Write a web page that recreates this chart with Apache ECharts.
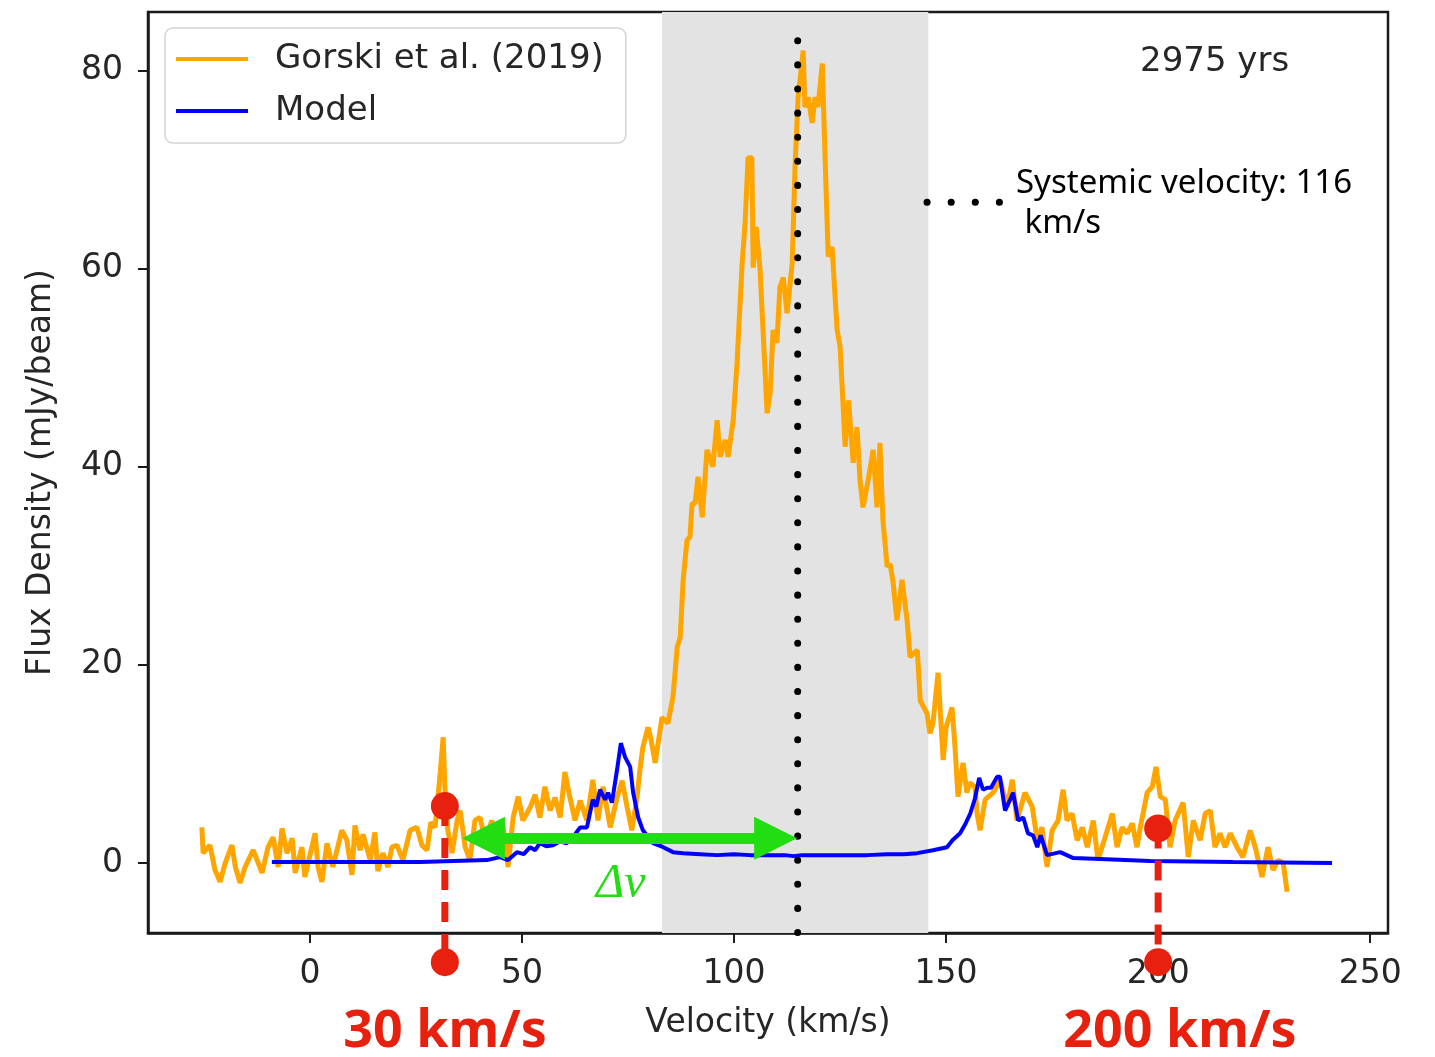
<!DOCTYPE html>
<html>

<head>
    <meta charset="utf-8" />
    <title>Line profile</title>
    <script src="https://cdn.jsdelivr.net/npm/echarts@6.0.0/dist/echarts.min.js"></script>
    <style>
        body { margin: 0; background: #fff; }
        #main { width: 1435px; height: 1057px; }
    </style>
</head>

<body>
    <div id="main"></div>
    <script type="text/javascript">
        // observed profile, [velocity km/s, flux mJy/beam]
        var gorski = [
            [-25.5, 3.6], [-25.2, 1.0], [-23.6, 1.8], [-22.4, -0.7], [-21.2, -1.9], [-20.0, 0.0], [-18.4, 1.8],
            [-17.6, -0.4], [-16.5, -2.0], [-15.3, -0.4], [-13.4, 1.3], [-11.3, -1.0], [-9.9, 1.6], [-8.7, 2.6],
            [-7.5, -0.4], [-6.6, 3.5], [-5.4, 1.0], [-4.2, 2.5], [-3.5, -1.0], [-1.9, 1.6], [-1.2, -1.4],
            [1.2, 3.0], [1.9, -0.4], [2.8, -1.9], [4.0, 2.0], [5.4, -0.4], [7.5, 3.3], [8.7, 2.3], [9.9, -1.2],
            [10.6, 3.8], [11.8, 1.3], [12.5, 2.9], [14.2, 0.3], [15.3, 3.1], [16.0, -0.8], [17.2, 1.0],
            [18.4, -0.4], [19.3, 1.6], [20.5, 1.8], [21.9, 0.3], [23.6, 3.3], [25.2, 3.6], [26.4, 1.8],
            [27.6, 1.3], [28.5, 4.1], [29.5, 3.6], [30.7, 9.1], [31.4, 12.7], [31.8, 7.7], [32.5, 3.3],
            [33.5, 1.0], [34.7, 4.3], [35.4, 5.3], [36.6, 1.6], [37.7, 0.3], [38.9, 4.3], [40.1, 4.6],
            [41.3, 2.3], [42.9, 4.3], [44.3, 1.0], [45.5, 3.9], [46.7, -0.4], [47.9, 4.6], [49.1, 6.7],
            [50.2, 4.3], [51.9, 5.6], [53.1, 6.9], [54.2, 4.6], [55.4, 7.7], [56.6, 5.3], [57.8, 6.6],
            [59.0, 4.6], [60.1, 9.2], [61.3, 6.6], [62.5, 4.3], [63.7, 6.3], [65.3, 4.3], [66.7, 8.4],
            [67.9, 4.3], [69.1, 7.7], [70.8, 3.6], [72.4, 6.6], [73.6, 8.3], [74.8, 5.6], [75.9, 3.3],
            [77.1, 6.6], [77.8, 9.4], [78.5, 11.7], [79.7, 13.7], [80.4, 12.5], [81.4, 10.1], [83.0, 14.7],
            [84.4, 14.1], [85.6, 16.8], [86.6, 21.8], [87.3, 22.8], [88.0, 28.6], [88.9, 32.6], [89.6, 32.9],
            [90.1, 36.3], [90.8, 36.3], [91.5, 39.0], [92.5, 34.9], [93.6, 41.7], [95.0, 40.0], [96.0, 44.7],
            [96.7, 41.0], [97.9, 42.7], [98.6, 41.0], [99.8, 44.7], [100.7, 50.5], [101.9, 60.5], [102.6, 64.6],
            [103.3, 71.2], [104.2, 71.2], [104.5, 60.1], [105.2, 64.2], [106.1, 60.1], [107.8, 45.4],
            [108.5, 47.4], [109.2, 53.8], [110.1, 52.5], [110.8, 58.1], [111.6, 59.1], [112.5, 55.5],
            [113.7, 60.5], [114.4, 70.6], [115.1, 77.3], [116.3, 82.0], [116.7, 76.3], [117.5, 77.3],
            [118.4, 74.7], [119.1, 77.3], [119.8, 76.3], [120.8, 80.7], [121.5, 70.6], [122.2, 61.2],
            [123.1, 62.2], [124.3, 53.8], [125.0, 52.1], [126.2, 42.0], [127.0, 46.7], [128.1, 40.4],
            [129.0, 44.0], [129.7, 38.6], [130.4, 35.9], [131.6, 38.6], [132.8, 41.7], [133.7, 35.9],
            [134.4, 42.4], [135.1, 34.6], [136.1, 29.9], [136.8, 30.2], [137.5, 28.3], [138.4, 24.5],
            [139.6, 28.6], [140.8, 24.5], [141.5, 20.8], [143.2, 21.5], [143.9, 16.4], [145.5, 15.1],
            [146.2, 13.1], [146.9, 14.1], [148.1, 19.2], [149.3, 10.4], [150.0, 13.7], [151.4, 15.7],
            [152.1, 11.7], [152.8, 6.7], [154.0, 10.1], [154.9, 7.1], [155.5, 8.1], [156.8, 7.7], [157.3, 5.0],
            [158.0, 3.3], [159.2, 6.4], [161.1, 7.1], [162.7, 8.4], [164.4, 5.7], [165.6, 8.4], [166.7, 4.3],
            [168.6, 7.1], [170.3, 5.7], [171.5, 2.3], [172.6, 3.6], [173.8, -0.4], [175.0, 3.3], [176.4, 4.3],
            [177.6, 7.4], [178.5, 4.3], [179.7, 5.0], [180.9, 2.3], [182.1, 3.6], [183.3, 1.6], [184.7, 4.3],
            [185.8, 0.3], [187.5, 2.6], [189.2, 5.0], [190.3, 1.6], [191.5, 3.6], [192.7, 3.0], [193.9, 4.0],
            [195.0, 1.6], [195.8, 3.6], [197.4, 7.1], [198.6, 7.7], [199.5, 9.7], [200.5, 6.7], [201.7, 6.4],
            [202.8, 1.6], [204.0, 4.3], [205.9, 6.1], [207.1, 0.6], [208.3, 4.3], [209.9, 2.3], [211.1, 5.0],
            [212.3, 5.3], [213.4, 1.6], [214.6, 3.0], [215.8, 1.6], [217.0, 3.0], [218.6, 1.6], [220.0, 0.6],
            [221.7, 3.3], [222.9, 1.6], [224.5, -1.4], [225.9, 1.6], [227.1, -0.7], [228.3, 0.3], [229.5, 0.0],
            [230.4, -2.9]
        ];

        // model profile
        var model = [
            [-9, 0.1], [10, 0.1], [26, 0.1], [41.7, 0.3], [44.8, 0.6], [46.7, 0.3], [48.8, 1.1], [50.4, 0.9],
            [51.9, 1.6], [53.1, 1.3], [54.2, 2.0], [55.7, 1.7], [57.3, 1.8], [59.0, 2.2], [60.5, 2.0],
            [62.0, 2.6], [63.7, 3.6], [65.3, 3.6], [66.0, 5.0], [66.7, 6.4], [67.5, 5.7], [68.4, 7.4],
            [69.6, 6.4], [70.3, 7.1], [71.2, 6.1], [72.4, 9.4], [73.3, 12.1], [74.3, 10.7], [75.5, 9.7],
            [76.2, 7.1], [77.4, 4.6], [78.5, 3.3], [80.9, 2.0], [83.3, 1.6], [85.6, 1.1], [88, 1.0], [92, 0.9],
            [96, 0.8], [100, 0.9], [103.8, 0.8], [108, 0.8], [112, 0.8], [114, 0.7], [116, 0.8], [120, 0.8],
            [125, 0.8], [131.4, 0.8], [136, 0.9], [140, 0.9], [143.2, 1.0], [146.9, 1.3], [150.2, 1.6],
            [151.5, 2.3], [153.3, 3.0], [154.6, 4.0], [155.7, 5.0], [156.8, 6.5], [157.8, 8.6], [158.7, 7.4],
            [159.7, 7.6], [160.6, 7.6], [162.0, 8.7], [162.7, 8.7], [163.9, 5.3], [165.1, 6.4], [165.8, 7.1],
            [167.0, 4.3], [168.2, 4.6], [169.3, 3.0], [170.5, 2.8], [171.5, 1.6], [172.3, 2.8], [173.8, 0.8],
            [176.9, 1.1], [180, 0.5], [186.3, 0.4], [198.1, 0.2], [217.7, 0.1], [241, 0.0]
        ];

        var xTicks = [0, 50, 100, 150, 200, 250];
        var yTicks = [0, 20, 40, 60, 80];

        var shadeRange = [83.0, 145.8];       // grey band
        var sysVelLine = [[115, 83.0], [115, -7.06]];   // dotted systemic line
        var sysKey = [[145.5, 66.7], [162.6, 66.7]];     // dotted key next to label
        var deltaArrow = [[40.9, 2.5], [109.8, 2.5]];    // green double arrow (symbol centres)
        var redLeft = [[31.8, 5.75], [31.8, -10.0]];
        var redRight = [[200.0, 3.5], [200.0, -10.0]];

        var green = '#22dd11';
        var red = '#e8210f';
        var ink = '#1a1a1a';

        var myChart = echarts.init(document.getElementById('main'));

        var axisFont = { fontFamily: 'DejaVu Sans', fontSize: 33, color: '#262626' };

        var option = {
            animation: false,
            grid: {
                left: 148, top: 12, right: 47, bottom: 124,
                show: true, borderColor: ink, borderWidth: 2.5, backgroundColor: 'transparent'
            },
            legend: {
                data: ['Gorski et al. (2019)', 'Model'],
                orient: 'vertical',
                left: 165, top: 28,
                padding: [11, 22, 12, 11],
                itemWidth: 72, itemHeight: 4, itemGap: 12,
                icon: 'rect',
                backgroundColor: '#fff',
                borderColor: '#d4d4d4', borderWidth: 1.5, borderRadius: 8,
                textStyle: {
                    fontFamily: 'DejaVu Sans', fontSize: 34, color: '#262626',
                    lineHeight: 40, padding: [0, 0, 0, 22]
                }
            },
            xAxis: {
                type: 'value',
                min: -38.2, max: 254.2,
                name: 'Velocity (km/s)',
                nameLocation: 'middle',
                nameGap: 74,
                nameTextStyle: axisFont,
                axisLine: { show: true, onZero: false, lineStyle: { color: ink, width: 2.5 } },
                splitLine: { show: false },
                axisTick: { show: true, inside: false, length: 10, customValues: xTicks, lineStyle: { color: ink, width: 2 } },
                axisLabel: Object.assign({ customValues: xTicks, margin: 25 }, axisFont)
            },
            yAxis: {
                type: 'value',
                min: -7.06, max: 85.9,
                name: 'Flux Density (mJy/beam)',
                nameLocation: 'middle',
                nameGap: 90,
                nameTextStyle: axisFont,
                axisLine: { show: true, onZero: false, lineStyle: { color: ink, width: 2.5 } },
                splitLine: { show: false },
                axisTick: { show: true, inside: false, length: 10, customValues: yTicks, lineStyle: { color: ink, width: 2 } },
                axisLabel: Object.assign({ customValues: yTicks, margin: 25 }, axisFont)
            },
            series: [
                {
                    name: 'Gorski et al. (2019)',
                    type: 'line',
                    color: '#ffa500',
                    data: gorski,
                    showSymbol: false,
                    lineStyle: { width: 5, color: '#ffa500' },
                    markArea: {
                        silent: true,
                        itemStyle: { color: '#e3e3e3' },
                        data: [[{ xAxis: shadeRange[0] }, { xAxis: shadeRange[1] }]]
                    }
                },
                {
                    name: 'Model',
                    type: 'line',
                    color: '#0000ff',
                    data: model,
                    showSymbol: false,
                    lineStyle: { width: 4, color: '#0000ff' }
                },
                {
                    name: 'sysvel',
                    type: 'line',
                    data: sysVelLine,
                    showSymbol: false,
                    clip: false,
                    lineStyle: { color: '#000', width: 7, type: [0.1, 24], cap: 'round' }
                },
                {
                    name: 'syskey',
                    type: 'line',
                    data: sysKey,
                    showSymbol: false,
                    lineStyle: { color: '#000', width: 7, type: [0.1, 24], cap: 'round' }
                },
                {
                    name: 'redLeft',
                    type: 'line',
                    data: redLeft,
                    clip: false,
                    symbol: 'circle', symbolSize: 28,
                    itemStyle: { color: red },
                    lineStyle: { color: red, width: 7, type: [20, 12] }
                },
                {
                    name: 'redRight',
                    type: 'line',
                    data: redRight,
                    clip: false,
                    symbol: 'circle', symbolSize: 28,
                    itemStyle: { color: red },
                    lineStyle: { color: red, width: 7, type: [20, 12] }
                },
                {
                    name: 'delta',
                    type: 'line',
                    data: [],
                    markLine: {
                        silent: true,
                        symbol: ['triangle', 'triangle'],
                        symbolSize: [43, 43],
                        label: { show: false },
                        lineStyle: { color: green, width: 11, type: 'solid' },
                        data: [[{ coord: deltaArrow[0] }, { coord: deltaArrow[1] }]]
                    }
                }
            ],
            graphic: [
                {
                    type: 'text', left: 1140, top: 45,
                    style: { text: '2975 yrs', font: '34px "DejaVu Sans"', fill: '#262626' }
                },
                {
                    type: 'text', left: 1016, top: 164,
                    style: { text: 'Systemic velocity: 116\n km/s', font: '33px "Noto Sans"', fill: '#000', lineHeight: 40 }
                },
                {
                    type: 'text', left: 596, top: 860,
                    style: { text: 'Δν', font: 'italic 48px "Liberation Serif"', fill: green }
                },
                {
                    type: 'text', x: 445, y: 1032,
                    style: { text: '30 km/s', font: 'bold 52px "Noto Sans"', fill: red, align: 'center', verticalAlign: 'middle' }
                },
                {
                    type: 'text', x: 1180, y: 1032,
                    style: { text: '200 km/s', font: 'bold 52px "Noto Sans"', fill: red, align: 'center', verticalAlign: 'middle' }
                }
            ]
        };

        myChart.setOption(option);
    </script>
</body>

</html>
